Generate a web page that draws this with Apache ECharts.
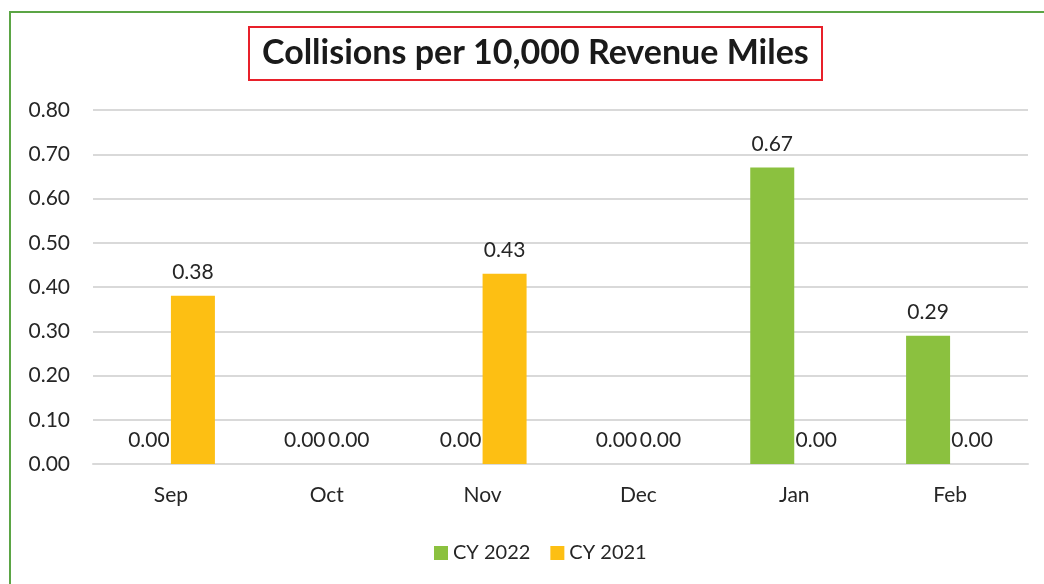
<!DOCTYPE html>
<html>
<head>
<meta charset="utf-8">
<script src="https://cdn.jsdelivr.net/npm/echarts@6/dist/echarts.min.js"></script>
<style>
  html, body { margin: 0; padding: 0; background: #fff; }
  #chart { width: 1044px; height: 584px; }
</style>
</head>
<body>
<div id="chart"></div>
<script>
// months shown on the x axis
const months = ['Sep', 'Oct', 'Nov', 'Dec', 'Jan', 'Feb'];
// collisions per 10,000 revenue miles
const cy2022 = [0.00, 0.00, 0.00, 0.00, 0.67, 0.29];
const cy2021 = [0.38, 0.00, 0.43, 0.00, 0.00, 0.00];

const fontName = 'Lato, "Open Sans", sans-serif';
const textColor = '#262626';

const chart = echarts.init(document.getElementById('chart'));

const barLabel = {
  show: true,
  position: 'top',
  distance: 13,
  fontSize: 21,
  fontFamily: fontName,
  color: textColor,
  formatter: p => p.value.toFixed(2)
};

chart.setOption({
  animation: false,
  backgroundColor: '#fff',
  textStyle: { fontFamily: fontName },
  title: {
    text: 'Collisions per 10,000 Revenue Miles',
    left: 249,
    top: 27,
    padding: [9, 13, 10, 13],
    borderColor: '#E8202A',
    borderWidth: 2,
    textStyle: { fontSize: 34, fontWeight: 'bold', color: '#1a1a1a', fontFamily: fontName }
  },
  graphic: [{
    type: 'rect',
    shape: { x: 10, y: 12, width: 1200, height: 700 },
    style: { fill: 'none', stroke: '#5BA545', lineWidth: 2 },
    silent: true
  }],
  legend: {
    data: ['CY 2022', 'CY 2021'],
    left: 429,
    top: 538,
    itemWidth: 14,
    itemHeight: 14,
    itemGap: 20,
    icon: 'rect',
    textStyle: { fontSize: 20, color: textColor, fontFamily: fontName }
  },
  grid: { left: 93, right: 16, top: 110, bottom: 120 },
  xAxis: {
    type: 'category',
    data: months,
    axisTick: { show: false },
    axisLine: { lineStyle: { color: '#D9D9D9', width: 2 } },
    axisLabel: { fontSize: 21, color: textColor, margin: 21, fontFamily: fontName }
  },
  yAxis: {
    type: 'value',
    min: 0,
    max: 0.8,
    interval: 0.1,
    axisLine: { show: false },
    axisTick: { show: false },
    splitLine: { lineStyle: { color: '#D9D9D9', width: 2 } },
    axisLabel: {
      fontSize: 21, color: textColor, margin: 23, fontFamily: fontName,
      formatter: v => v.toFixed(2)
    }
  },
  series: [
    {
      name: 'CY 2022',
      type: 'bar',
      data: cy2022,
      barWidth: 44,
      barGap: '0%',
      itemStyle: { color: '#8BC13F' },
      label: barLabel
    },
    {
      name: 'CY 2021',
      type: 'bar',
      data: cy2021,
      barWidth: 44,
      barGap: '0%',
      itemStyle: { color: '#FDBF13' },
      label: barLabel
    }
  ]
});
</script>
</body>
</html>
